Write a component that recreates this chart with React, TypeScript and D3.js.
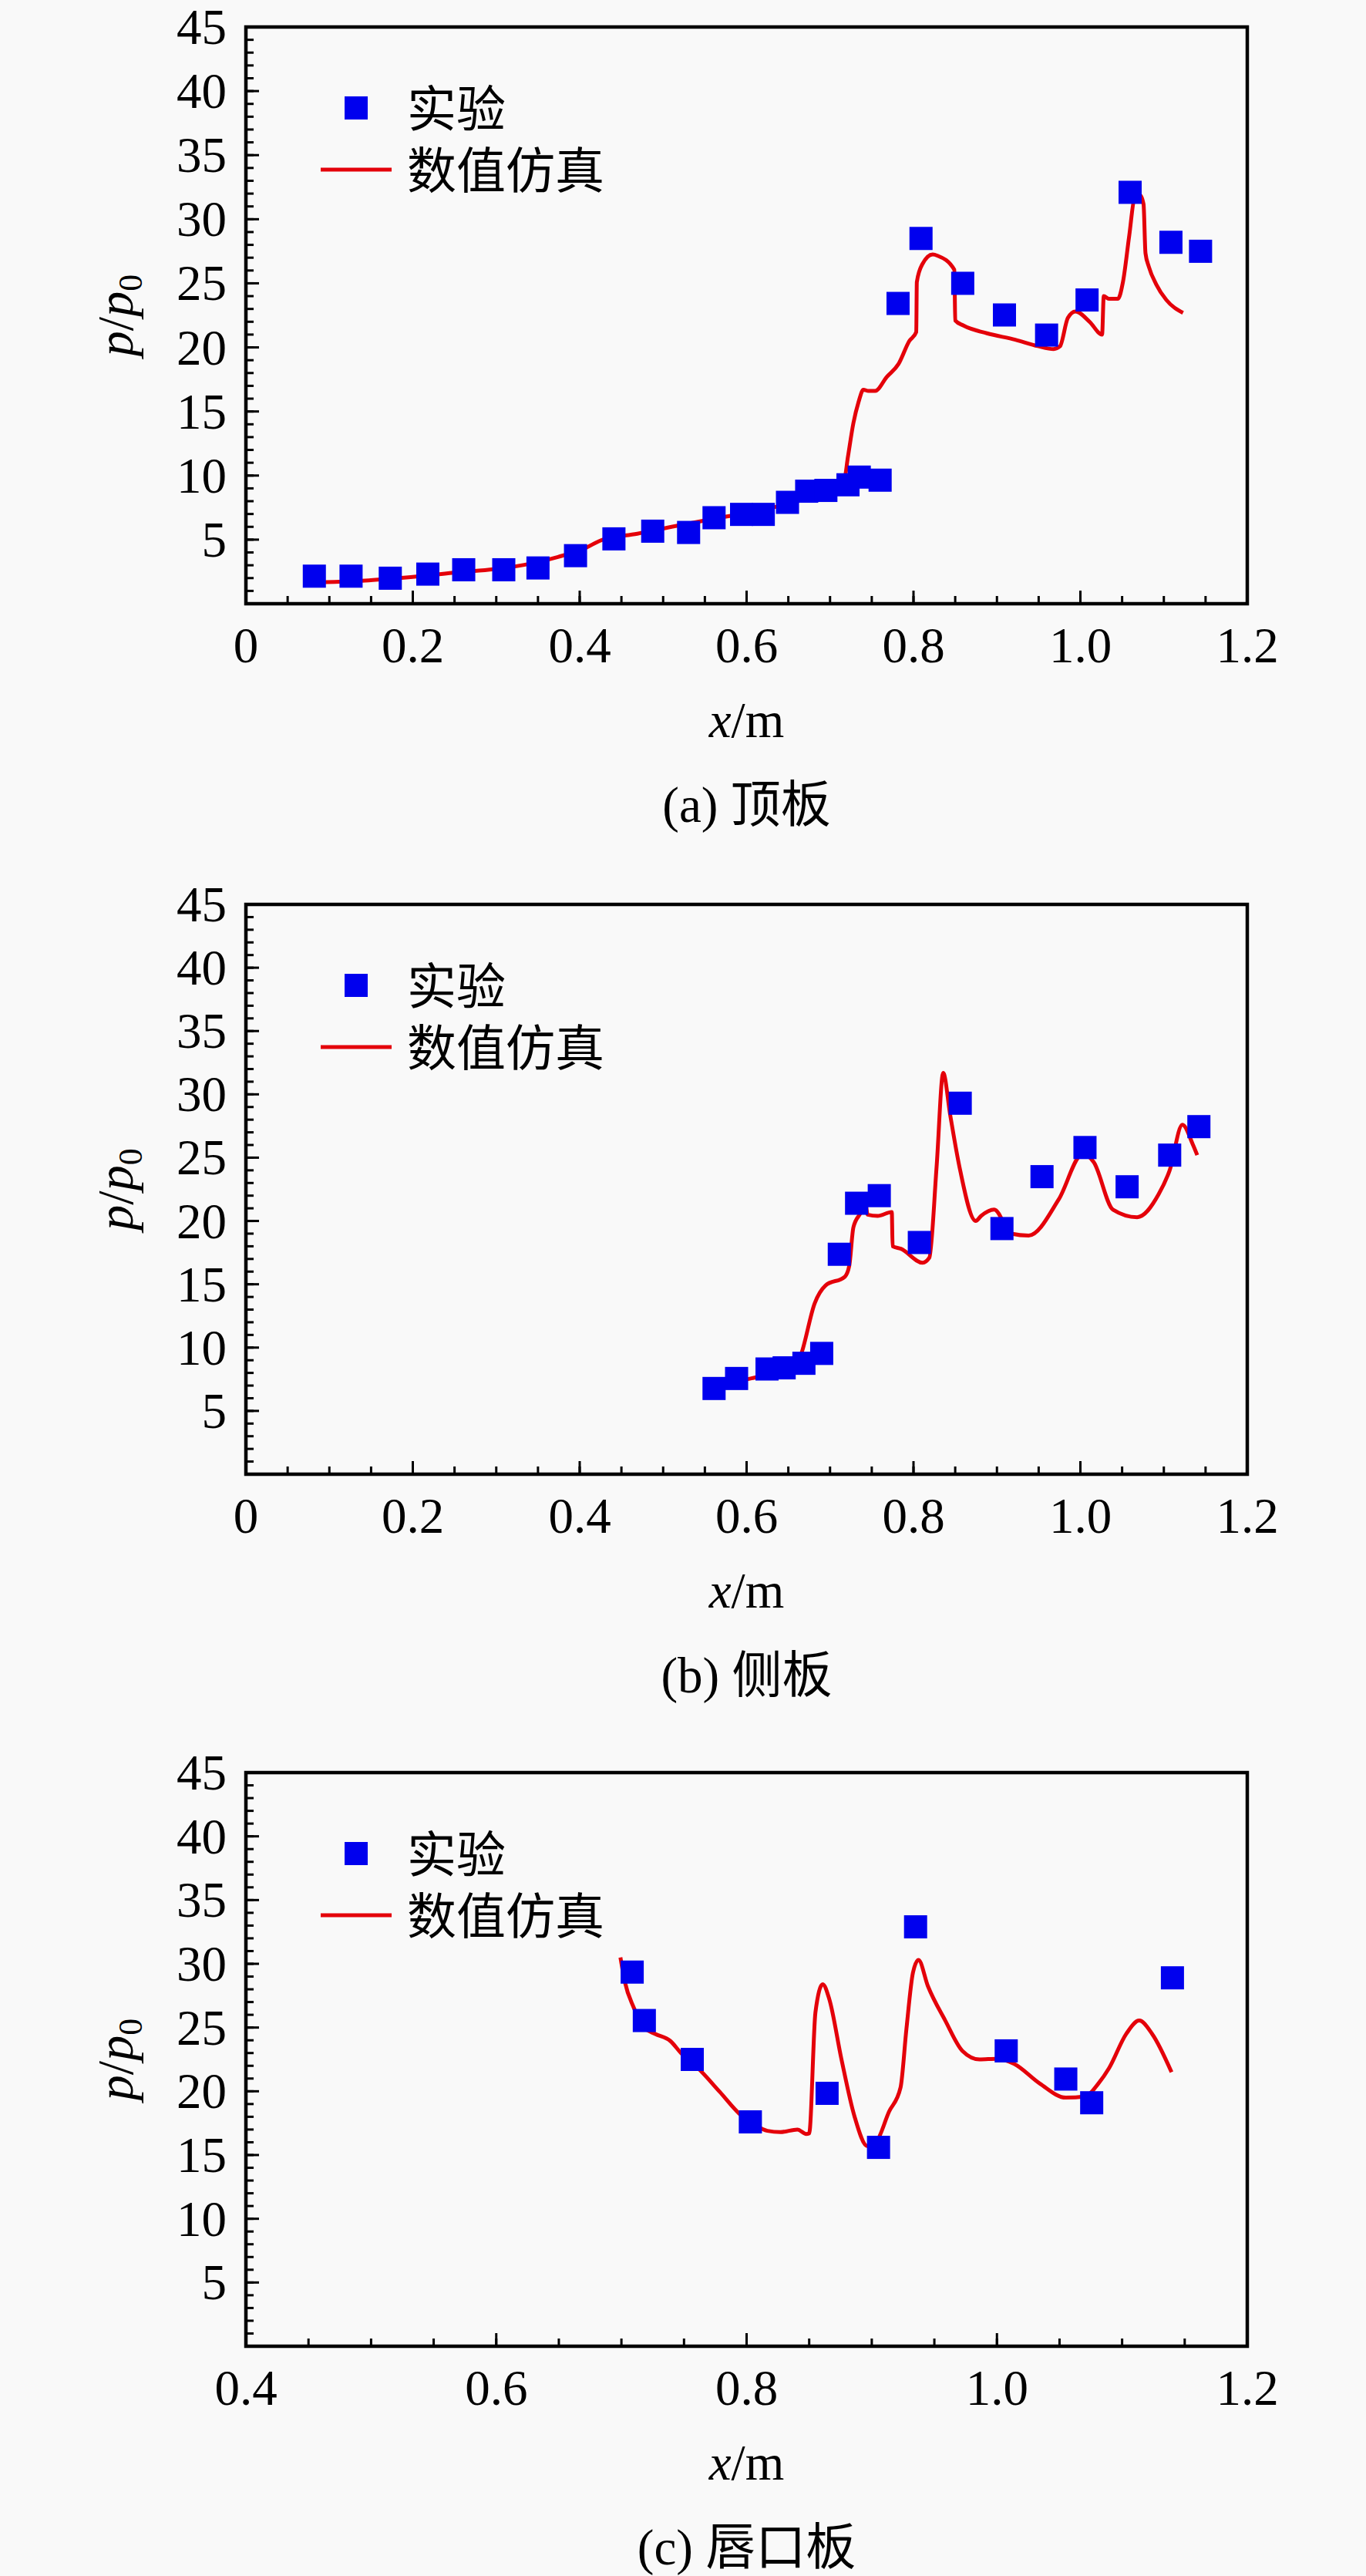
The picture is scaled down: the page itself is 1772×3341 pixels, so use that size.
import { useEffect, useRef } from 'react';
import * as d3 from 'd3';

// (a) 顶板
const topSimX = [0.073, 0.096, 0.143, 0.173, 0.21, 0.253, 0.297, 0.343, 0.374, 0.407, 0.426, 0.469, 0.515, 0.561, 0.608, 0.654, 0.685, 0.7, 0.717, 0.7215, 0.728, 0.734, 0.74, 0.746, 0.754, 0.768, 0.782, 0.795, 0.8033, 0.804, 0.8107, 0.823, 0.829, 0.849, 0.85, 0.86, 0.888, 0.922, 0.949, 0.968, 0.9755, 0.985, 0.994, 1.011, 1.026, 1.028, 1.034, 1.045, 1.051, 1.0586, 1.065, 1.0716, 1.0757, 1.078, 1.082, 1.091, 1.103, 1.123];
const topSimY = [1.79, 1.69, 1.8, 1.95, 2.15, 2.45, 2.69, 3.15, 3.65, 4.35, 4.96, 5.46, 6.06, 6.63, 7.17, 7.87, 8.47, 8.98, 9.68, 11.49, 14.1, 15.7, 16.7, 16.6, 16.6, 17.7, 18.7, 20.5, 21.2, 25.1, 26.5, 27.25, 27.15, 26.05, 22.1, 21.7, 21.1, 20.6, 20.1, 19.87, 20.08, 22.3, 22.8, 22.0, 21.0, 24.0, 23.8, 23.8, 25.1, 28.75, 31.67, 31.87, 31.16, 27.35, 26.3, 24.9, 23.7, 22.7];
const topExpX = [0.082, 0.126, 0.173, 0.218, 0.261, 0.309, 0.35, 0.395, 0.441, 0.4875, 0.5305, 0.561, 0.594, 0.62, 0.649, 0.672, 0.695, 0.7215, 0.735, 0.76, 0.7815, 0.809, 0.859, 0.909, 0.9595, 1.008, 1.0596, 1.1085, 1.144];
const topExpY = [2.15, 2.15, 1.99, 2.31, 2.65, 2.65, 2.79, 3.75, 5.06, 5.66, 5.56, 6.71, 6.97, 6.97, 7.91, 8.78, 8.84, 9.28, 9.88, 9.64, 23.43, 28.5, 25.0, 22.53, 20.96, 23.7, 32.1, 28.2, 27.5];

// (b) 侧板
const sideSimX = [0.549, 0.575, 0.6115, 0.658, 0.666, 0.6816, 0.6945, 0.7178, 0.723, 0.728, 0.7386, 0.742, 0.745, 0.757, 0.774, 0.775, 0.785, 0.811, 0.819, 0.8277, 0.8356, 0.8439, 0.855, 0.8746, 0.881, 0.8967, 0.917, 0.938, 0.974, 1.003, 1.016, 1.039, 1.068, 1.0937, 1.107, 1.1222, 1.135, 1.14];
const sideSimY = [6.36, 7.05, 7.66, 8.25, 9.6, 13.5, 14.9, 15.6, 16.45, 19.5, 20.9, 21.6, 20.5, 20.4, 20.7, 18.0, 17.8, 16.7, 17.1, 24.3, 31.7, 28.4, 24.3, 20.0, 20.4, 20.9, 19.0, 18.85, 21.7, 25.3, 24.65, 20.9, 20.3, 22.1, 24.0, 27.6, 26.0, 25.2];
const sideExpX = [0.561, 0.588, 0.6245, 0.645, 0.6687, 0.69, 0.7111, 0.7318, 0.759, 0.807, 0.856, 0.906, 0.954, 1.0055, 1.056, 1.107, 1.142];
const sideExpY = [6.77, 7.56, 8.31, 8.4, 8.76, 9.54, 17.37, 21.4, 22.0, 18.3, 29.3, 19.4, 23.5, 25.8, 22.7, 25.2, 27.45];

// (c) 唇口板
const lipSimX = [0.6992, 0.7027, 0.7097, 0.7183, 0.727, 0.739, 0.7476, 0.7613, 0.7786, 0.7941, 0.806, 0.8166, 0.827, 0.8406, 0.8476, 0.85, 0.855, 0.8608, 0.866, 0.8758, 0.886, 0.8965, 0.9033, 0.9138, 0.923, 0.9277, 0.9329, 0.9373, 0.9448, 0.9587, 0.9724, 0.9861, 0.9999, 1.0137, 1.0343, 1.055, 1.0706, 1.081, 1.0895, 1.1033, 1.1137, 1.124, 1.1395];
const lipSimY = [30.5, 28.6, 26.6, 25.0, 24.5, 23.95, 23.0, 21.8, 19.95, 18.25, 17.4, 16.9, 16.8, 17.0, 16.65, 16.7, 26.2, 28.4, 27.25, 22.5, 18.1, 15.7, 16.0, 18.4, 20.3, 24.9, 29.3, 30.3, 28.26, 25.55, 23.17, 22.5, 22.55, 22.15, 20.6, 19.5, 19.6, 20.6, 21.8, 24.5, 25.55, 24.5, 21.5];
const lipExpX = [0.7086, 0.7183, 0.7566, 0.803, 0.8643, 0.9054, 0.935, 1.0074, 1.055, 1.0757, 1.1402];
const lipExpY = [29.35, 25.55, 22.5, 17.6, 19.84, 15.6, 32.9, 23.17, 20.96, 19.1, 28.9];

const yTicks = [5, 10, 15, 20, 25, 30, 35, 40, 45];
const abTicks = [0, 0.2, 0.4, 0.6, 0.8, 1.0, 1.2];
const cTicks = [0.4, 0.6, 0.8, 1.0, 1.2];
const legendLabels = ['实验', '数值仿真'];
const captions = ['(a) 顶板', '(b) 侧板', '(c) 唇口板'];

const W = 1772;
const H = 3341;
const LEFT = 319;
const RIGHT = 1618;
const FONT = "'Liberation Serif', 'Times New Roman', 'Noto Sans CJK SC', serif";
const RED = '#e4000a';
const BLUE = '#0000ee';

const panels = [
  { top: 35, bottom: 783, domain: [0, 1.2], ticks: abTicks, simX: topSimX, simY: topSimY, expX: topExpX, expY: topExpY, caption: captions[0] },
  { top: 1173, bottom: 1912, domain: [0, 1.2], ticks: abTicks, simX: sideSimX, simY: sideSimY, expX: sideExpX, expY: sideExpY, caption: captions[1] },
  { top: 2299, bottom: 3043, domain: [0.4, 1.2], ticks: cTicks, simX: lipSimX, simY: lipSimY, expX: lipExpX, expY: lipExpY, caption: captions[2] },
];

const App = () => {
  const svgRef = useRef(null);

  useEffect(() => {
    if (!svgRef.current) return;
    const svg = d3.select(svgRef.current);
    svg.selectAll('*').remove();
    svg.append('rect').attr('width', W).attr('height', H).attr('fill', '#f9f9f9');

    panels.forEach((p) => {
      const g = svg.append('g').attr('font-family', FONT).attr('fill', '#000');
      const x = d3.scaleLinear().domain(p.domain).range([LEFT, RIGHT]);
      const y = d3.scaleLinear().domain([0, 45]).range([p.bottom, p.top]);

      // minor ticks
      const xMinor = d3
        .range(Math.round(p.domain[0] / 0.05), Math.round(p.domain[1] / 0.05) + 1)
        .map((i) => i * 0.05);
      g.selectAll('.xminor')
        .data(xMinor)
        .join('line')
        .attr('x1', (d) => x(d))
        .attr('x2', (d) => x(d))
        .attr('y1', p.bottom)
        .attr('y2', p.bottom - 10)
        .attr('stroke', '#000')
        .attr('stroke-width', 3);
      g.selectAll('.xmajor')
        .data(p.ticks)
        .join('line')
        .attr('x1', (d) => x(d))
        .attr('x2', (d) => x(d))
        .attr('y1', p.bottom)
        .attr('y2', p.bottom - 17)
        .attr('stroke', '#000')
        .attr('stroke-width', 3);
      g.selectAll('.yminor')
        .data(d3.range(1, 45))
        .join('line')
        .attr('x1', LEFT)
        .attr('x2', LEFT + 10)
        .attr('y1', (d) => y(d))
        .attr('y2', (d) => y(d))
        .attr('stroke', '#000')
        .attr('stroke-width', 3);
      g.selectAll('.ymajor')
        .data(yTicks)
        .join('line')
        .attr('x1', LEFT)
        .attr('x2', LEFT + 17)
        .attr('y1', (d) => y(d))
        .attr('y2', (d) => y(d))
        .attr('stroke', '#000')
        .attr('stroke-width', 3);

      // frame
      g.append('rect')
        .attr('x', LEFT)
        .attr('y', p.top)
        .attr('width', RIGHT - LEFT)
        .attr('height', p.bottom - p.top)
        .attr('fill', 'none')
        .attr('stroke', '#000')
        .attr('stroke-width', 4.5);

      // tick labels
      g.selectAll('.ylab')
        .data(yTicks)
        .join('text')
        .attr('x', LEFT - 25)
        .attr('y', (d) => y(d) + 22)
        .attr('text-anchor', 'end')
        .attr('font-size', 65)
        .text((d) => d);
      g.selectAll('.xlab')
        .data(p.ticks)
        .join('text')
        .attr('x', (d) => x(d))
        .attr('y', p.bottom + 76)
        .attr('text-anchor', 'middle')
        .attr('font-size', 65)
        .text((d) => (d === 0 ? '0' : d3.format('.1f')(d)));

      // axis titles
      const xt = g
        .append('text')
        .attr('x', (LEFT + RIGHT) / 2)
        .attr('y', p.bottom + 173)
        .attr('text-anchor', 'middle')
        .attr('font-size', 65);
      xt.append('tspan').attr('font-style', 'italic').text('x');
      xt.append('tspan').text('/m');

      const cy = (p.top + p.bottom) / 2;
      const yt = g
        .append('text')
        .attr('transform', `translate(172,${cy}) rotate(-90)`)
        .attr('text-anchor', 'middle')
        .attr('font-size', 66);
      yt.append('tspan').attr('font-style', 'italic').text('p');
      yt.append('tspan').text('/');
      yt.append('tspan').attr('font-style', 'italic').text('p');
      yt.append('tspan').attr('font-size', 44).attr('dy', 12).text('0');

      g.append('text')
        .attr('x', (LEFT + RIGHT) / 2)
        .attr('y', p.bottom + 283)
        .attr('text-anchor', 'middle')
        .attr('font-size', 65)
        .text(p.caption);

      // simulation line
      const pts = p.simX.map((v, i) => [v, p.simY[i]] as [number, number]);
      const line = d3
        .line<[number, number]>()
        .x((d) => x(d[0]))
        .y((d) => y(d[1]))
        .curve(d3.curveMonotoneX);
      g.append('path')
        .attr('d', line(pts))
        .attr('fill', 'none')
        .attr('stroke', RED)
        .attr('stroke-width', 5)
        .attr('stroke-linejoin', 'round');

      // experiment markers
      const s = 30;
      g.selectAll('.exp')
        .data(p.expX.map((v, i) => [v, p.expY[i]]))
        .join('rect')
        .attr('x', (d) => x(d[0]) - s / 2)
        .attr('y', (d) => y(d[1]) - s / 2)
        .attr('width', s)
        .attr('height', s)
        .attr('fill', BLUE);

      // legend
      g.append('rect')
        .attr('x', 462 - s / 2)
        .attr('y', p.top + 105 - s / 2)
        .attr('width', s)
        .attr('height', s)
        .attr('fill', BLUE);
      g.append('line')
        .attr('x1', 416)
        .attr('x2', 508)
        .attr('y1', p.top + 185)
        .attr('y2', p.top + 185)
        .attr('stroke', RED)
        .attr('stroke-width', 5);
      g.selectAll('.leg')
        .data(legendLabels)
        .join('text')
        .attr('x', 528)
        .attr('y', (_, i) => p.top + 105 + i * 80 + 24)
        .attr('font-size', 64)
        .text((d) => d);
    });
  }, []);

  return (
    <svg
      ref={svgRef}
      width={W}
      height={H}
      style={{ position: 'absolute', left: 0, top: 0, display: 'block' }}
    ></svg>
  );
};

export default App;
